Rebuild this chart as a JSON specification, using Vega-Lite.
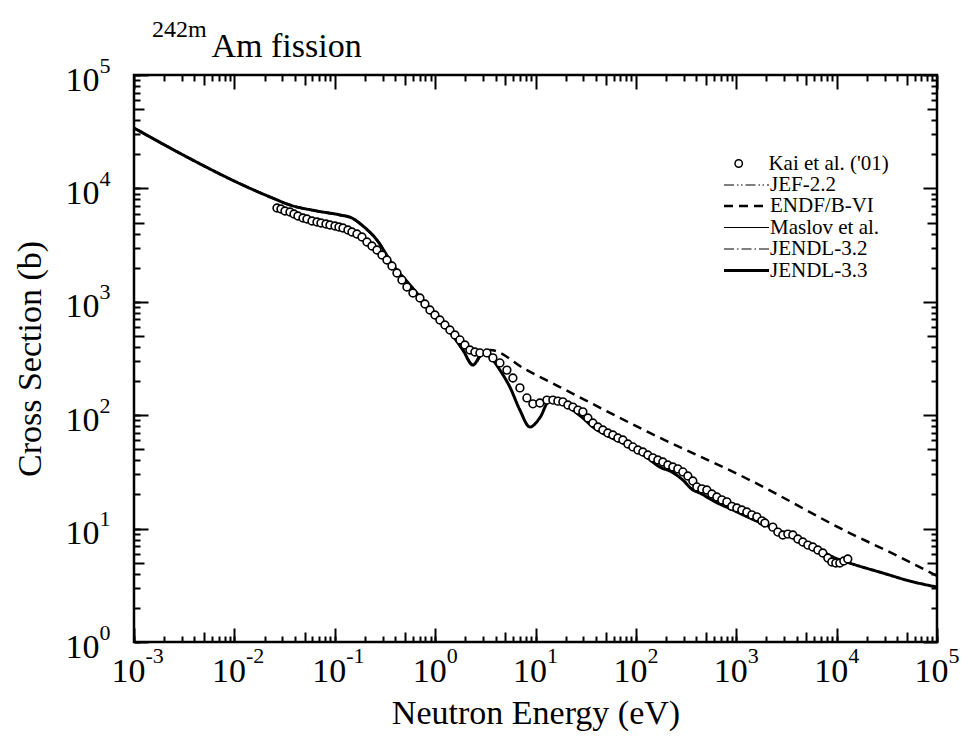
{
  "$schema": "https://vega.github.io/schema/vega-lite/v6.json",
  "width": 803,
  "height": 567,
  "autosize": {"type": "none"},
  "padding": {"left": 134, "top": 75, "right": 36, "bottom": 113},
  "background": "white",
  "title": {
    "text": "242m",
    "subtitle": "\u200d\u00a0\u00a0\u00a0\u00a0\u00a0\u00a0\u00a0Am fission",
    "anchor": "start",
    "frame": "group",
    "dx": 18,
    "offset": -10,
    "font": "Liberation Serif",
    "fontSize": 24,
    "fontWeight": "normal",
    "color": "black",
    "subtitleFont": "Liberation Serif",
    "subtitleFontSize": 34,
    "subtitleFontWeight": "normal",
    "subtitleColor": "black",
    "subtitlePadding": -12
  },
  "config": {
    "font": "Liberation Serif",
    "view": {"stroke": "black", "strokeWidth": 2.5},
    "title": {"font": "Liberation Serif", "subtitleFont": "Liberation Serif"},
    "axis": {
      "domain": false,
      "grid": false,
      "tickColor": "black",
      "tickWidth": 2,
      "labelColor": "black",
      "labelFont": "Liberation Serif",
      "labelFlush": false,
      "labelOverlap": false,
      "labelBound": false,
      "titleFont": "Liberation Serif",
      "titleFontSize": 34,
      "titleFontWeight": "normal",
      "titleColor": "black"
    },
    "legend": {
      "orient": "none",
      "title": null,
      "padding": 0,
      "labelFont": "Liberation Serif",
      "labelFontSize": 21,
      "labelColor": "black",
      "labelLimit": 300,
      "symbolStrokeColor": "black"
    }
  },
  "datasets": {
    "curve": [
      {"E": 0.001, "sigma": 34100}, {"E": 0.00316, "sigma": 19500}, {"E": 0.01, "sigma": 11600},
      {"E": 0.0242, "sigma": 8200}, {"E": 0.0358, "sigma": 7140}, {"E": 0.0665, "sigma": 6320},
      {"E": 0.1127, "sigma": 5830}, {"E": 0.1484, "sigma": 5480}, {"E": 0.191, "sigma": 4660},
      {"E": 0.263, "sigma": 3510}, {"E": 0.38, "sigma": 2110}, {"E": 0.561, "sigma": 1410},
      {"E": 0.828, "sigma": 937}, {"E": 1.31, "sigma": 590}, {"E": 1.89, "sigma": 376},
      {"E": 2.38, "sigma": 277}, {"E": 2.99, "sigma": 354}, {"E": 3.76, "sigma": 307},
      {"E": 4.42, "sigma": 250}, {"E": 5.56, "sigma": 177}, {"E": 6.99, "sigma": 111},
      {"E": 8.8, "sigma": 78.7}, {"E": 11.06, "sigma": 95}, {"E": 13.9, "sigma": 136},
      {"E": 18.7, "sigma": 131}, {"E": 23.6, "sigma": 111}, {"E": 29.65, "sigma": 94.5},
      {"E": 37.3, "sigma": 78.7}, {"E": 55.1, "sigma": 64.3}, {"E": 81.3, "sigma": 54.6},
      {"E": 122.9, "sigma": 43.7}, {"E": 173, "sigma": 34.9}, {"E": 228, "sigma": 31.6},
      {"E": 294, "sigma": 26.8}, {"E": 370, "sigma": 21.9}, {"E": 434, "sigma": 20.6},
      {"E": 595, "sigma": 17.5}, {"E": 925, "sigma": 14.6}, {"E": 1366, "sigma": 12.4},
      {"E": 2320, "sigma": 10.1}, {"E": 4300, "sigma": 7.93}, {"E": 6802, "sigma": 6.47},
      {"E": 9160, "sigma": 5.62}, {"E": 13500, "sigma": 4.97}, {"E": 28800, "sigma": 4.06},
      {"E": 53600, "sigma": 3.45}, {"E": 100000, "sigma": 3.05}
    ],
    "endf": [
      {"E": 0.001, "sigma": 34100}, {"E": 0.00316, "sigma": 19500}, {"E": 0.01, "sigma": 11600},
      {"E": 0.0242, "sigma": 8200}, {"E": 0.0358, "sigma": 7140}, {"E": 0.0665, "sigma": 6320},
      {"E": 0.1127, "sigma": 5830}, {"E": 0.1484, "sigma": 5480}, {"E": 0.191, "sigma": 4660},
      {"E": 0.263, "sigma": 3510}, {"E": 0.38, "sigma": 2110}, {"E": 0.561, "sigma": 1410},
      {"E": 0.828, "sigma": 937}, {"E": 1.31, "sigma": 590}, {"E": 1.89, "sigma": 376},
      {"E": 2.38, "sigma": 277}, {"E": 2.99, "sigma": 354}, {"E": 3.52, "sigma": 376},
      {"E": 7.83, "sigma": 255}, {"E": 17.5, "sigma": 177}, {"E": 138, "sigma": 69.7},
      {"E": 1365, "sigma": 26.8}, {"E": 13500, "sigma": 9.14}, {"E": 42600, "sigma": 5.62},
      {"E": 100000, "sigma": 3.82}
    ],
    "kai": [
      {"E": 0.02656, "sigma": 6718}, {"E": 0.02911, "sigma": 6583}, {"E": 0.03192, "sigma": 6321},
      {"E": 0.0358, "sigma": 6194}, {"E": 0.03923, "sigma": 5948}, {"E": 0.04298, "sigma": 5712},
      {"E": 0.04822, "sigma": 5483}, {"E": 0.05284, "sigma": 5373}, {"E": 0.05928, "sigma": 5158},
      {"E": 0.06649, "sigma": 5055}, {"E": 0.07288, "sigma": 4953}, {"E": 0.08175, "sigma": 4853},
      {"E": 0.08957, "sigma": 4756}, {"E": 0.1005, "sigma": 4661}, {"E": 0.1101, "sigma": 4568},
      {"E": 0.1207, "sigma": 4475}, {"E": 0.1353, "sigma": 4297}, {"E": 0.1484, "sigma": 4127},
      {"E": 0.1664, "sigma": 3963}, {"E": 0.1866, "sigma": 3728}, {"E": 0.2093, "sigma": 3369},
      {"E": 0.2347, "sigma": 3106}, {"E": 0.2633, "sigma": 2863}, {"E": 0.2953, "sigma": 2587},
      {"E": 0.3311, "sigma": 2337}, {"E": 0.3713, "sigma": 2070}, {"E": 0.4165, "sigma": 1795},
      {"E": 0.467, "sigma": 1557}, {"E": 0.5238, "sigma": 1351}, {"E": 0.601, "sigma": 1196},
      {"E": 0.7058, "sigma": 1080}, {"E": 0.7915, "sigma": 956}, {"E": 0.8875, "sigma": 847},
      {"E": 0.9954, "sigma": 765}, {"E": 1.116, "sigma": 691}, {"E": 1.252, "sigma": 624},
      {"E": 1.404, "sigma": 564}, {"E": 1.575, "sigma": 510}, {"E": 1.766, "sigma": 461},
      {"E": 1.98, "sigma": 416}, {"E": 2.221, "sigma": 376}, {"E": 2.491, "sigma": 361},
      {"E": 2.794, "sigma": 354}, {"E": 3.281, "sigma": 354}, {"E": 3.764, "sigma": 320},
      {"E": 4.419, "sigma": 289}, {"E": 5.19, "sigma": 250}, {"E": 5.954, "sigma": 213},
      {"E": 6.993, "sigma": 174}, {"E": 8.21, "sigma": 142}, {"E": 9.419, "sigma": 126},
      {"E": 11.06, "sigma": 128}, {"E": 12.99, "sigma": 136}, {"E": 14.9, "sigma": 136},
      {"E": 16.71, "sigma": 133}, {"E": 18.74, "sigma": 131}, {"E": 21.02, "sigma": 123},
      {"E": 23.58, "sigma": 118}, {"E": 26.44, "sigma": 111}, {"E": 29.65, "sigma": 107},
      {"E": 33.25, "sigma": 94.5}, {"E": 37.29, "sigma": 85.4}, {"E": 41.83, "sigma": 78.7},
      {"E": 46.92, "sigma": 74.1}, {"E": 52.6, "sigma": 69.7}, {"E": 59.0, "sigma": 66.9},
      {"E": 66.18, "sigma": 63.0}, {"E": 74.23, "sigma": 60.4}, {"E": 83.23, "sigma": 55.7},
      {"E": 93.33, "sigma": 52.5}, {"E": 104.7, "sigma": 49.3}, {"E": 117.4, "sigma": 47.4},
      {"E": 131.6, "sigma": 44.6}, {"E": 147.6, "sigma": 42.0}, {"E": 165.6, "sigma": 40.3},
      {"E": 185.7, "sigma": 38.7}, {"E": 208.2, "sigma": 36.4}, {"E": 233.5, "sigma": 34.9},
      {"E": 261.9, "sigma": 33.6}, {"E": 293.8, "sigma": 31.6}, {"E": 329.5, "sigma": 29.1},
      {"E": 369.5, "sigma": 26.3}, {"E": 404.9, "sigma": 23.3}, {"E": 454.2, "sigma": 22.4},
      {"E": 509.4, "sigma": 21.9}, {"E": 571.3, "sigma": 20.2}, {"E": 640.8, "sigma": 19.0},
      {"E": 718.7, "sigma": 17.9}, {"E": 806.1, "sigma": 17.2}, {"E": 904.1, "sigma": 15.7},
      {"E": 1014, "sigma": 15.2}, {"E": 1137, "sigma": 14.6}, {"E": 1275, "sigma": 14.0},
      {"E": 1430, "sigma": 13.2}, {"E": 1604, "sigma": 12.7}, {"E": 1799, "sigma": 11.7},
      {"E": 1927, "sigma": 11.2}, {"E": 2314, "sigma": 10.3}, {"E": 2596, "sigma": 9.32},
      {"E": 2911, "sigma": 8.78}, {"E": 3265, "sigma": 8.95}, {"E": 3662, "sigma": 8.78},
      {"E": 4107, "sigma": 8.09}, {"E": 4606, "sigma": 7.62}, {"E": 5166, "sigma": 7.16},
      {"E": 5794, "sigma": 6.88}, {"E": 6499, "sigma": 6.47}, {"E": 7289, "sigma": 6.09},
      {"E": 8175, "sigma": 5.5}, {"E": 8954, "sigma": 5.08}, {"E": 9817, "sigma": 4.97},
      {"E": 10760, "sigma": 4.97}, {"E": 11790, "sigma": 5.18}, {"E": 12920, "sigma": 5.39}
    ]
  },
  "resolve": {
    "axis": {"x": "independent", "y": "independent"},
    "scale": {"strokeDash": "independent"}
  },
  "layer": [
    {
      "data": {"name": "curve"},
      "mark": {"type": "line", "color": "black", "strokeWidth": 1, "interpolate": "monotone", "clip": true},
      "encoding": {
        "x": {"field": "E", "type": "quantitative",
          "scale": {"type": "log", "domain": [0.001, 100000], "nice": false},
          "axis": {"orient": "bottom", "values": [0.001, 0.01, 0.1, 1, 10, 100, 1000, 10000, 100000],
            "tickSize": -14, "labelExpr": "'10'", "labelFont": "Liberation Serif", "labelFontSize": 34, "labelBaseline": "alphabetic",
            "labelPadding": 53, "labelOffset": -6, "labelAlign": "center",
            "title": "Neutron Energy (eV)", "titleFont": "Liberation Serif", "titleFontSize": 34, "titleFontWeight": "normal",
            "titleX": 401.5, "titleY": 71, "titleBaseline": "middle", "titleAlign": "center"}},
        "y": {"field": "sigma", "type": "quantitative",
          "scale": {"type": "log", "domain": [1, 100000], "nice": false},
          "axis": {"orient": "left", "values": [1, 10, 100, 1000, 10000, 100000],
            "tickSize": -14, "labelExpr": "'10'", "labelFont": "Liberation Serif", "labelFontSize": 34, "labelBaseline": "alphabetic",
            "labelPadding": 49, "labelOffset": 15, "labelAlign": "right",
            "title": "Cross Section (b)", "titleFont": "Liberation Serif", "titleFontSize": 34, "titleFontWeight": "normal",
            "titleX": -104, "titleY": 283.5, "titleAngle": 270, "titleBaseline": "middle", "titleAlign": "center"}},
        "strokeDash": {"datum": "JEF-2.2", "type": "nominal",
          "scale": {"domain": ["JEF-2.2"], "range": [[10, 3, 1.5, 2.5, 1.5, 3]]},
          "legend": {"legendX": 602, "legendY": 99.5, "symbolType": "M-3,0H3", "symbolSize": 225,
            "symbolStrokeWidth": 1.2, "labelOffset": 13}}
      }
    },
    {
      "data": {"name": "curve"},
      "mark": {"type": "line", "color": "black", "strokeWidth": 1, "interpolate": "monotone", "clip": true},
      "encoding": {
        "x": {"field": "E", "type": "quantitative",
          "scale": {"type": "log", "domain": [0.001, 100000], "nice": false},
          "axis": {"orient": "bottom",
            "values": [0.001, 0.002, 0.003, 0.004, 0.006, 0.007, 0.008, 0.009, 0.01, 0.02, 0.03, 0.04, 0.06, 0.07, 0.08, 0.09, 0.1, 0.2, 0.3, 0.4, 0.6, 0.7, 0.8, 0.9, 1, 2, 3, 4, 6, 7, 8, 9, 10, 20, 30, 40, 60, 70, 80, 90, 100, 200, 300, 400, 600, 700, 800, 900, 1000, 2000, 3000, 4000, 6000, 7000, 8000, 9000, 10000, 20000, 30000, 40000, 60000, 70000, 80000, 90000, 100000],
            "tickSize": -6,
            "labelExpr": "abs(log(datum.value)/LN10 - round(log(datum.value)/LN10)) < 0.01 ? '' + round(log(datum.value)/LN10) : ''",
            "labelFont": "Liberation Serif", "labelFontSize": 22, "labelBaseline": "alphabetic", "labelPadding": 26, "labelOffset": 11, "labelAlign": "left",
            "title": null}},
        "y": {"field": "sigma", "type": "quantitative",
          "scale": {"type": "log", "domain": [1, 100000], "nice": false},
          "axis": {"orient": "left",
            "values": [1, 2, 3, 4, 6, 7, 8, 9, 10, 20, 30, 40, 60, 70, 80, 90, 100, 200, 300, 400, 600, 700, 800, 900, 1000, 2000, 3000, 4000, 6000, 7000, 8000, 9000, 10000, 20000, 30000, 40000, 60000, 70000, 80000, 90000, 100000],
            "tickSize": -6,
            "labelExpr": "abs(log(datum.value)/LN10 - round(log(datum.value)/LN10)) < 0.01 ? '' + round(log(datum.value)/LN10) : ''",
            "labelFont": "Liberation Serif", "labelFontSize": 22, "labelBaseline": "alphabetic", "labelPadding": 30, "labelOffset": -3, "labelAlign": "right",
            "title": null}},
        "strokeDash": {"datum": "Maslov et al.", "type": "nominal",
          "scale": {"domain": ["Maslov et al."], "range": [[1, 0]]},
          "legend": {"legendX": 602, "legendY": 142, "symbolType": "M-3,0H3", "symbolSize": 225,
            "symbolStrokeWidth": 1.2, "labelOffset": 13}}
      }
    },
    {
      "data": {"name": "curve"},
      "mark": {"type": "line", "color": "black", "strokeWidth": 1, "interpolate": "monotone", "clip": true},
      "encoding": {
        "x": {"field": "E", "type": "quantitative",
          "scale": {"type": "log", "domain": [0.001, 100000], "nice": false},
          "axis": {"orient": "bottom", "values": [0.005, 0.05, 0.5, 5, 50, 500, 5000, 50000], "tickSize": -10, "labels": false, "title": null}},
        "y": {"field": "sigma", "type": "quantitative",
          "scale": {"type": "log", "domain": [1, 100000], "nice": false},
          "axis": {"orient": "left", "values": [5, 50, 500, 5000, 50000], "tickSize": -10, "labels": false, "title": null}},
        "strokeDash": {"datum": "JENDL-3.2", "type": "nominal",
          "scale": {"domain": ["JENDL-3.2"], "range": [[10, 3, 1.5, 3]]},
          "legend": {"legendX": 602, "legendY": 163.5, "symbolType": "M-3,0H3", "symbolSize": 225,
            "symbolStrokeWidth": 1.2, "labelOffset": 13}}
      }
    },
    {
      "data": {"name": "endf"},
      "mark": {"type": "line", "color": "black", "strokeWidth": 2.5, "interpolate": "monotone", "clip": true},
      "encoding": {
        "x": {"field": "E", "type": "quantitative",
          "scale": {"type": "log", "domain": [0.001, 100000], "nice": false},
          "axis": {"orient": "top", "values": [0.001, 0.01, 0.1, 1, 10, 100, 1000, 10000, 100000], "tickSize": -14, "labels": false, "title": null}},
        "y": {"field": "sigma", "type": "quantitative",
          "scale": {"type": "log", "domain": [1, 100000], "nice": false},
          "axis": {"orient": "right", "values": [1, 10, 100, 1000, 10000, 100000], "tickSize": -14, "labels": false, "title": null}},
        "strokeDash": {"datum": "ENDF/B-VI", "type": "nominal",
          "scale": {"domain": ["ENDF/B-VI"], "range": [[9, 6]]},
          "legend": {"legendX": 602, "legendY": 120.5, "symbolType": "M-3,0H3", "symbolSize": 225,
            "symbolStrokeWidth": 2.5, "labelOffset": 13}}
      }
    },
    {
      "data": {"name": "curve"},
      "mark": {"type": "line", "color": "black", "strokeWidth": 3, "interpolate": "monotone", "clip": true},
      "encoding": {
        "x": {"field": "E", "type": "quantitative",
          "scale": {"type": "log", "domain": [0.001, 100000], "nice": false},
          "axis": {"orient": "top", "values": [0.005, 0.05, 0.5, 5, 50, 500, 5000, 50000], "tickSize": -10, "labels": false, "title": null}},
        "y": {"field": "sigma", "type": "quantitative",
          "scale": {"type": "log", "domain": [1, 100000], "nice": false},
          "axis": {"orient": "right", "values": [5, 50, 500, 5000, 50000], "tickSize": -10, "labels": false, "title": null}},
        "strokeDash": {"datum": "JENDL-3.3", "type": "nominal",
          "scale": {"domain": ["JENDL-3.3"], "range": [[1, 0]]},
          "legend": {"legendX": 602, "legendY": 185, "symbolType": "M-3,0H3", "symbolSize": 225,
            "symbolStrokeWidth": 3, "labelOffset": 13}}
      }
    },
    {
      "data": {"name": "kai"},
      "mark": {"type": "point", "shape": "circle", "filled": true, "stroke": "black", "strokeWidth": 1.6, "size": 60, "opacity": 1},
      "encoding": {
        "x": {"field": "E", "type": "quantitative",
          "scale": {"type": "log", "domain": [0.001, 100000], "nice": false},
          "axis": {"orient": "top",
            "values": [0.002, 0.003, 0.004, 0.006, 0.007, 0.008, 0.009, 0.02, 0.03, 0.04, 0.06, 0.07, 0.08, 0.09, 0.2, 0.3, 0.4, 0.6, 0.7, 0.8, 0.9, 2, 3, 4, 6, 7, 8, 9, 20, 30, 40, 60, 70, 80, 90, 200, 300, 400, 600, 700, 800, 900, 2000, 3000, 4000, 6000, 7000, 8000, 9000, 20000, 30000, 40000, 60000, 70000, 80000, 90000],
            "tickSize": -6, "labels": false, "title": null}},
        "y": {"field": "sigma", "type": "quantitative",
          "scale": {"type": "log", "domain": [1, 100000], "nice": false},
          "axis": {"orient": "right",
            "values": [2, 3, 4, 6, 7, 8, 9, 20, 30, 40, 60, 70, 80, 90, 200, 300, 400, 600, 700, 800, 900, 2000, 3000, 4000, 6000, 7000, 8000, 9000, 20000, 30000, 40000, 60000, 70000, 80000, 90000],
            "tickSize": -6, "labels": false, "title": null}},
        "fill": {"datum": "Kai et al. ('01)", "type": "nominal",
          "scale": {"domain": ["Kai et al. ('01)"], "range": ["white"]},
          "legend": {"legendX": 594.2, "legendY": 78, "symbolSize": 55, "symbolType": "circle",
            "symbolStrokeColor": "black", "symbolStrokeWidth": 1.5, "symbolOpacity": 1, "labelOffset": 19.2}}
      }
    }
  ]
}
